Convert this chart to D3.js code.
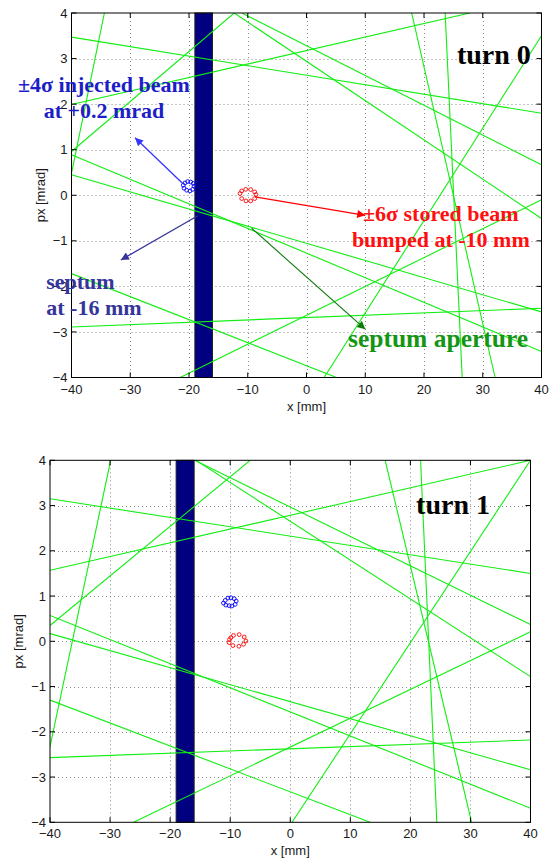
<!DOCTYPE html>
<html><head><meta charset="utf-8">
<script src="https://cdn.jsdelivr.net/npm/d3@7"></script>
<style>
html,body{margin:0;padding:0;background:#fff;}
svg{display:block;}
</style></head>
<body>
<svg id="chart" width="555" height="858"></svg>
<script>
// ---------- data ----------
const xTicks = [-40, -30, -20, -10, 0, 10, 20, 30, 40];
const yTicks = [-4, -3, -2, -1, 0, 1, 2, 3, 4];
const septumEdges = [-19, -16];

// green septum-aperture lines [x1, y1, x2, y2]
const turn0Lines = [
  [-34.4, 4, -40, 0.48],
  [-40, 3.47, 40, 1.80],
  [-40, 0.96, -12.3, 4],
  [-40, 1.99, 27.8, 4],
  [-11.0, 4, 40, 0.67],
  [-12.3, 4, 40, -0.51],
  [17.9, 4, 32.1, -4],
  [23.6, 4, 26.5, -4],
  [40, 3.50, 3.0, -4],
  [-21.5, -4, 40, -0.10],
  [-40, 0.89, 40, -3.43],
  [-40, 0.45, 40, -2.56],
  [-40, -1.72, 5.1, -4],
  [-40, -2.89, 40, -2.48]
];
const turn1Lines = [
  [-29.9, 4, -40, -2.33],
  [-40, 3.15, 40, 1.50],
  [-40, 1.57, 40, 4.0],
  [-40, 0.35, -6.67, 4],
  [-15.9, 4, 40, 0.37],
  [-15.7, 4, 40, -0.78],
  [-40, 0.57, 40, -3.69],
  [-40, 0.17, 40, -2.84],
  [-40, -1.30, 13.3, -4],
  [-40, -2.57, 40, -2.18],
  [-26.1, -4, 40, 0.21],
  [0.3, -4, 40, 4],
  [15.8, 4, 30.2, -4],
  [21.7, 4, 24.4, -4]
];

// beam particles [x, px]
const turn0Injected = [
  [-20.97, 0.22], [-20.68, 0.27], [-20.22, 0.30], [-19.71, 0.29], [-19.27, 0.26],
  [-19.15, 0.20], [-19.37, 0.13], [-19.83, 0.095], [-20.39, 0.11], [-20.85, 0.154]
];
const turn0Stored = [
  [-11.32, 0.037], [-11.03, 0.095], [-10.35, 0.13], [-9.50, 0.125], [-8.82, 0.073],
  [-8.60, 0.015], [-8.82, -0.073], [-9.50, -0.125], [-10.30, -0.125], [-11.03, -0.073]
];
const turn1Injected = [
  [-11.12, 0.845], [-10.83, 0.904], [-10.38, 0.955], [-9.88, 0.964], [-9.33, 0.942],
  [-9.00, 0.89], [-9.17, 0.816], [-9.72, 0.78], [-10.17, 0.787], [-10.72, 0.80]
];
const turn1Stored = [
  [-10.12, 0.037], [-9.88, 0.082], [-9.45, 0.13], [-8.50, 0.148], [-7.67, 0.095],
  [-7.38, 0.007], [-7.78, -0.066], [-8.55, -0.11], [-9.55, -0.095], [-10.17, -0.029]
];

const panelTitles = ["turn 0", "turn 1"];
const xLabel = "x [mm]";
const yLabel = "px [mrad]";

// ---------- drawing ----------
const svg = d3.select("#chart");
svg.append("rect").attr("width", 555).attr("height", 858).attr("fill", "#fff");

const defs = svg.append("defs");
function arrowMarker(id, color) {
  defs.append("marker").attr("id", id)
    .attr("viewBox", "0 0 10 10").attr("refX", 10).attr("refY", 5)
    .attr("markerWidth", 10).attr("markerHeight", 8).attr("markerUnits", "userSpaceOnUse")
    .attr("orient", "auto")
    .append("path").attr("d", "M0,0 L10,5 L0,10 Z").attr("fill", color);
}
arrowMarker("arBlue", "#3535ff");
arrowMarker("arSept", "#35359a");
arrowMarker("arRed", "#ff0000");
arrowMarker("arGreen", "#0a7a0a");

const serif = "'Liberation Serif', 'Times New Roman', serif";
const sans = "'Liberation Sans', Arial, Helvetica, sans-serif";

function drawPanel(cfg, idx) {
  const x = d3.scaleLinear().domain([-40, 40]).range([cfg.left, cfg.right]);
  const y = d3.scaleLinear().domain([-4, 4]).range([cfg.bottom, cfg.top]);
  const g = svg.append("g");
  const clipId = "clip" + idx;
  defs.append("clipPath").attr("id", clipId).append("rect")
    .attr("x", cfg.left).attr("y", cfg.top)
    .attr("width", cfg.right - cfg.left).attr("height", cfg.bottom - cfg.top);

  // grid
  const grid = g.append("g").attr("stroke", "#8a8a8a").attr("stroke-width", 1)
    .attr("stroke-dasharray", "1,3");
  grid.selectAll(".gx").data(xTicks.slice(1, -1)).join("line")
    .attr("x1", d => Math.round(x(d)) + 0.5).attr("x2", d => Math.round(x(d)) + 0.5)
    .attr("y1", cfg.top).attr("y2", cfg.bottom);
  grid.selectAll(".gy").data(yTicks.slice(1, -1)).join("line")
    .attr("y1", d => Math.round(y(d)) + 0.5).attr("y2", d => Math.round(y(d)) + 0.5)
    .attr("x1", cfg.left).attr("x2", cfg.right);

  // septum blade
  g.append("rect")
    .attr("x", x(septumEdges[0])).attr("y", cfg.top)
    .attr("width", x(septumEdges[1]) - x(septumEdges[0]))
    .attr("height", cfg.bottom - cfg.top)
    .attr("fill", "#000080").attr("stroke", "#222").attr("stroke-width", 1);

  // aperture lines
  g.append("g").attr("clip-path", `url(#${clipId})`)
    .selectAll("line").data(cfg.lines).join("line")
    .attr("x1", d => x(d[0])).attr("y1", d => y(d[1]))
    .attr("x2", d => x(d[2])).attr("y2", d => y(d[3]))
    .attr("stroke", "#11ee11").attr("stroke-width", 1.1);

  // beams
  g.append("g").selectAll("circle").data(cfg.injected).join("circle")
    .attr("cx", d => x(d[0])).attr("cy", d => y(d[1])).attr("r", 1.9)
    .attr("fill", "none").attr("stroke", "#0000ff").attr("stroke-width", 0.9);
  g.append("g").selectAll("circle").data(cfg.stored).join("circle")
    .attr("cx", d => x(d[0])).attr("cy", d => y(d[1])).attr("r", 1.9)
    .attr("fill", "none").attr("stroke", "#ff0000").attr("stroke-width", 0.9);

  // axes box
  g.append("rect").attr("x", cfg.left).attr("y", cfg.top)
    .attr("width", cfg.right - cfg.left).attr("height", cfg.bottom - cfg.top)
    .attr("fill", "none").attr("stroke", "#000").attr("stroke-width", 1);

  // inward ticks on all sides
  const tl = 5;
  const ticks = g.append("g").attr("stroke", "#000").attr("stroke-width", 1);
  xTicks.forEach(t => {
    const px = x(t);
    ticks.append("line").attr("x1", px).attr("x2", px).attr("y1", cfg.bottom).attr("y2", cfg.bottom - tl);
    ticks.append("line").attr("x1", px).attr("x2", px).attr("y1", cfg.top).attr("y2", cfg.top + tl);
  });
  yTicks.forEach(t => {
    const py = y(t);
    ticks.append("line").attr("y1", py).attr("y2", py).attr("x1", cfg.left).attr("x2", cfg.left + tl);
    ticks.append("line").attr("y1", py).attr("y2", py).attr("x1", cfg.right).attr("x2", cfg.right - tl);
  });

  const fmt = d3.format("d");
  g.append("g").selectAll("text").data(xTicks).join("text")
    .attr("x", d => x(d)).attr("y", cfg.bottom + 16)
    .attr("text-anchor", "middle").attr("font-family", sans).attr("font-size", 13)
    .attr("fill", "#1a1a1a").text(d => fmt(d));
  g.append("g").selectAll("text").data(yTicks).join("text")
    .attr("x", cfg.left - 4).attr("y", d => y(d)).attr("dy", "0.36em")
    .attr("text-anchor", "end").attr("font-family", sans).attr("font-size", 13)
    .attr("fill", "#1a1a1a").text(d => fmt(d));

  g.append("text").attr("x", (cfg.left + cfg.right) / 2).attr("y", cfg.bottom + 33)
    .attr("text-anchor", "middle").attr("font-family", sans).attr("font-size", 13)
    .attr("fill", "#1a1a1a").text(xLabel);
  g.append("text")
    .attr("transform", `translate(${cfg.left - 27},${(cfg.top + cfg.bottom) / 2}) rotate(-90)`)
    .attr("text-anchor", "middle").attr("font-family", sans).attr("font-size", 13)
    .attr("fill", "#1a1a1a").text(yLabel);

  // panel title
  g.append("text").attr("x", x(cfg.titlePos[0])).attr("y", y(cfg.titlePos[1]))
    .attr("font-family", serif).attr("font-weight", "bold").attr("font-size", 28)
    .attr("fill", "#000").text(panelTitles[idx]);

  return {x, y, g};
}

const p0 = drawPanel({left: 71.5, right: 541.5, top: 13, bottom: 377.5,
  lines: turn0Lines, injected: turn0Injected, stored: turn0Stored, titlePos: [25.6, 2.89]}, 0);
drawPanel({left: 50, right: 530.5, top: 460.3, bottom: 822.3,
  lines: turn1Lines, injected: turn1Injected, stored: turn1Stored, titlePos: [20.95, 2.82]}, 1);

// annotations on turn 0
const {x, y, g} = p0;
function arrow(x1, y1, x2, y2, color, marker, w) {
  g.append("line").attr("x1", x(x1)).attr("y1", y(y1)).attr("x2", x(x2)).attr("y2", y(y2))
    .attr("stroke", color).attr("stroke-width", w).attr("marker-end", `url(#${marker})`);
}
arrow(-21.07, 0.257, -29.19, 1.26, "#3535ff", "arBlue", 1.3);
arrow(-18.5, -0.45, -31.6, -1.42, "#35359a", "arSept", 1.3);
arrow(-8.77, -0.037, 10.0, -0.44, "#ff0000", "arRed", 1.3);
arrow(-9.33, -0.725, 10.0, -2.94, "#0a7a0a", "arGreen", 1.1);

function label(lines, px, py, anchor, color, size, spacing) {
  const t = g.append("text").attr("font-family", serif).attr("font-weight", "bold")
    .attr("font-size", size).attr("fill", color).attr("text-anchor", anchor);
  lines.forEach((s, i) => {
    t.append("tspan").attr("x", x(px)).attr("y", y(py) + i * spacing).text(s);
  });
}
label(["±4σ injected beam", "at +0.2 mrad"], -34.47, 2.26, "middle", "#1e1ec8", 22, 26);
label(["septum", "at -16 mm"], -44.3, -2.05, "start", "#35359a", 22, 26.7);
label(["±6σ stored beam", "bumped at -10 mm"], 22.86, -0.565, "middle", "#ff1010", 22, 26);
label(["septum aperture"], 22.4, -3.33, "middle", "#149614", 25.5, 26);
</script>
</body></html>
